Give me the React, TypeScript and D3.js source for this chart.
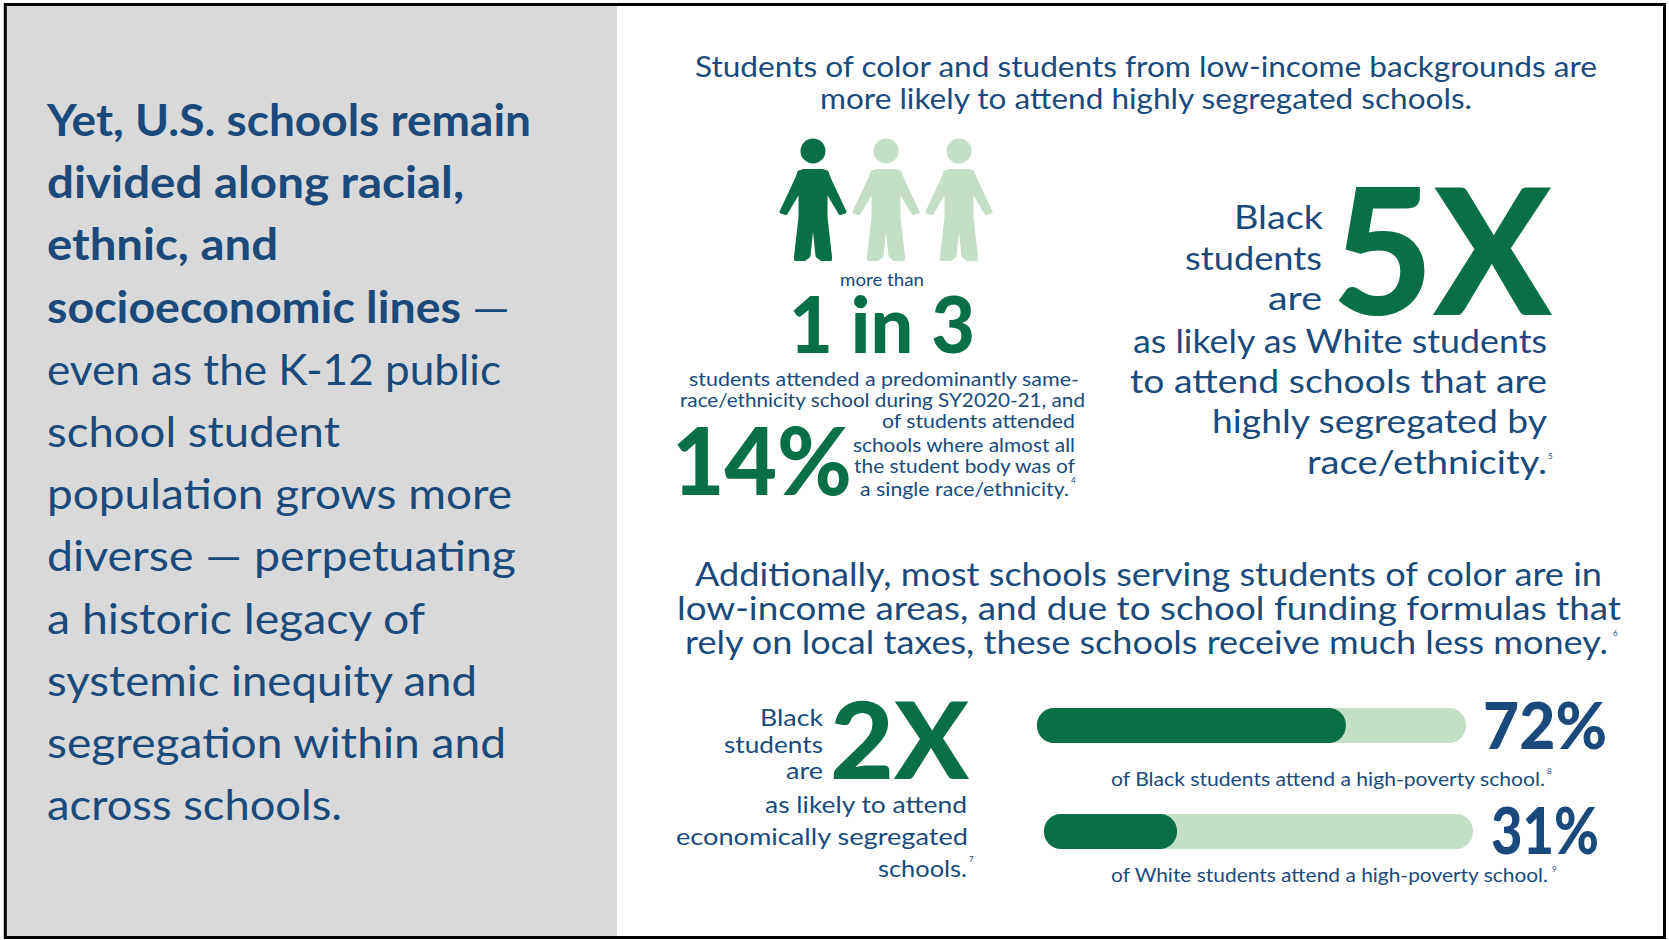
import React from "react";
import * as d3 from "d3";

// Palette
const NAVY = "#1A4A7C";
const GREEN = "#086F47";
const PALE = "#C5DEC6";
const PANEL = "#D9D9D9";
const FONT = "Lato, 'Noto Sans', sans-serif";

// Statement in the side panel; the first four lines are emphasised
const panelLines = [
  "Yet, U.S. schools remain",
  "divided along racial,",
  "ethnic, and",
  "socioeconomic lines",
  "even as the K-12 public",
  "school student",
  "population grows more",
  "diverse — perpetuating",
  "a historic legacy of",
  "systemic inequity and",
  "segregation within and",
  "across schools.",
];
const panelRightEdges = [531, 464, 278, 461, 501, 340, 512, 516, 425, 477, 506, 342];

// Share of students attending a high-poverty school
const povertyGroups = ["Black", "White"];
const povertyShares = [72, 31];
const povertyNotes = ["8", "9"];

// People pictogram: one in three highlighted
const peopleHighlighted = [true, false, false];

const personPath = (() => {
  const p = d3.path();
  const half: [number, number][] = [
    [9, 19.5], [14, 21], [17, 29], [32, 61], [27, 62.5], [13, 39], [13, 66], [17.5, 106], [17.5, 108.5], [8.5, 108.5], [4, 105], [0, 66],
  ];
  p.moveTo(0, 19.5);
  half.forEach(([x, y]) => p.lineTo(x, y));
  [...half].reverse().forEach(([x, y]) => p.lineTo(-x, y));
  p.closePath();
  return p.toString();
})();

// One line of text fitted between two x positions on a baseline
function Line({ x0, x1, y, size, weight = 400, fill = NAVY, children }: any) {
  return (
    <text
      x={x0}
      y={y}
      fontFamily={FONT}
      fontSize={size}
      fontWeight={weight}
      fill={fill}
      textLength={x1 - x0}
      lengthAdjust="spacingAndGlyphs"
    >
      {children}
    </text>
  );
}

function Note({ x, y, children }: any) {
  return (
    <text x={x} y={y} fontFamily={FONT} fontSize={8} fill={NAVY}>
      {children}
    </text>
  );
}

function Person({ cx, on }: { cx: number; on: boolean }) {
  const fill = on ? GREEN : PALE;
  return (
    <g transform={`translate(${cx},151)`} fill={fill}>
      <circle r={12.5} />
      <path d={personPath} stroke={fill} strokeWidth={3} strokeLinejoin="round" />
    </g>
  );
}

function PovertyBar({ i, x, y }: { i: number; x: number; y: number }) {
  const w = d3.scaleLinear().domain([0, 100]).range([0, 429]);
  return (
    <g>
      <rect x={x} y={y} width={w(100)} height={35} rx={17} fill={PALE} />
      <rect x={x} y={y} width={w(povertyShares[i])} height={35} rx={17} fill={GREEN} />
    </g>
  );
}

export default function App() {
  const rowY = d3.scaleLinear().domain([0, 1]).range([136, 198.2]);
  return (
    <svg
      width={1669}
      height={940}
      viewBox="0 0 1669 940"
      style={{ position: "absolute", left: 0, top: 0, display: "block", background: "#fff" }}
    >
      <rect x={5} y={5} width={612} height={933} fill={PANEL} />
      <rect x={5.3} y={4.5} width={1659.2} height={933} fill="none" stroke="#000" strokeWidth={3} />

      {panelLines.map((t, i) => (
        <Line key={t} x0={47} x1={panelRightEdges[i]} y={rowY(i)} size={43} weight={i < 4 ? 700 : 400}>
          {t}
        </Line>
      ))}
      <Line x0={472} x1={510} y={rowY(3)} size={43}>—</Line>

      <Line x0={695} x1={1597} y={77} size={29}>Students of color and students from low-income backgrounds are</Line>
      <Line x0={820} x1={1472} y={109} size={29}>more likely to attend highly segregated schools.</Line>

      {peopleHighlighted.map((on, i) => (
        <Person key={i} cx={813 + i * 73} on={on} />
      ))}

      <Line x0={840} x1={924} y={286} size={17}>more than</Line>
      <Line x0={789} x1={975} y={353} size={78} weight={900} fill={GREEN}>1 in 3</Line>
      <Line x0={689} x1={1079} y={386} size={20}>students attended a predominantly same-</Line>
      <Line x0={680} x1={1085} y={407} size={20}>race/ethnicity school during SY2020-21, and</Line>
      <Line x0={672} x1={852} y={495} size={94} weight={900} fill={GREEN}>14%</Line>
      <Line x0={882} x1={1075} y={428} size={20}>of students attended</Line>
      <Line x0={853} x1={1075} y={452} size={20}>schools where almost all</Line>
      <Line x0={854} x1={1075} y={473} size={20}>the student body was of</Line>
      <Line x0={860} x1={1069} y={496} size={20}>a single race/ethnicity.</Line>
      <Note x={1071} y={483}>4</Note>

      <Line x0={1234} x1={1323} y={229} size={33}>Black</Line>
      <Line x0={1185} x1={1322} y={270} size={33}>students</Line>
      <Line x0={1268} x1={1322} y={310} size={33}>are</Line>
      <Line x0={1332} x1={1552} y={315} size={175} weight={900} fill={GREEN}>5X</Line>
      <Line x0={1133} x1={1547} y={353} size={33}>as likely as White students</Line>
      <Line x0={1130} x1={1547} y={393} size={33}>to attend schools that are</Line>
      <Line x0={1212} x1={1547} y={433} size={33}>highly segregated by</Line>
      <Line x0={1307} x1={1547} y={474} size={33}>race/ethnicity.</Line>
      <Note x={1548} y={459}>5</Note>

      <Line x0={695} x1={1602} y={586} size={33}>Additionally, most schools serving students of color are in</Line>
      <Line x0={677} x1={1621} y={620} size={33}>low-income areas, and due to school funding formulas that</Line>
      <Line x0={685} x1={1608} y={654} size={33}>rely on local taxes, these schools receive much less money.</Line>
      <Note x={1613} y={636}>6</Note>

      <Line x0={760} x1={823} y={726} size={24}>Black</Line>
      <Line x0={724} x1={823} y={753} size={24}>students</Line>
      <Line x0={786} x1={823} y={779} size={24}>are</Line>
      <Line x0={830} x1={969} y={779} size={107} weight={900} fill={GREEN}>2X</Line>
      <Line x0={765} x1={967} y={813} size={24}>as likely to attend</Line>
      <Line x0={676} x1={968} y={845} size={24}>economically segregated</Line>
      <Line x0={878} x1={967} y={877} size={24}>schools.</Line>
      <Note x={969} y={862}>7</Note>

      <PovertyBar i={0} x={1037} y={708} />
      <Line x0={1483} x1={1607} y={749} size={64} weight={900}>{`${povertyShares[0]}%`}</Line>
      <Line x0={1111} x1={1545} y={786} size={20}>{`of ${povertyGroups[0]} students attend a high-poverty school.`}</Line>
      <Note x={1547} y={774}>{povertyNotes[0]}</Note>

      <PovertyBar i={1} x={1044} y={814} />
      <Line x0={1491} x1={1599} y={854} size={64} weight={900}>{`${povertyShares[1]}%`}</Line>
      <Line x0={1111} x1={1548} y={882} size={20}>{`of ${povertyGroups[1]} students attend a high-poverty school.`}</Line>
      <Note x={1552} y={872}>{povertyNotes[1]}</Note>
    </svg>
  );
}
